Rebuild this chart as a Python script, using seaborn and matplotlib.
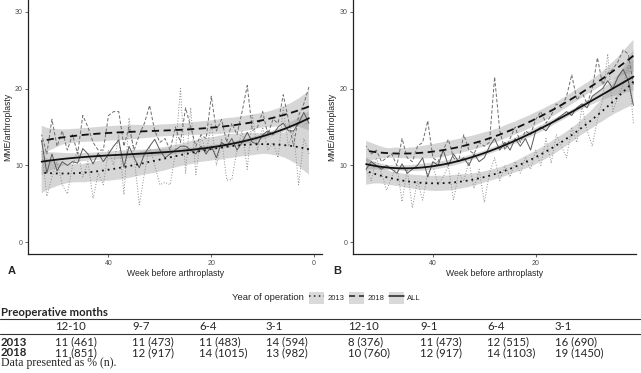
import numpy as np
import pandas as pd
import matplotlib
matplotlib.use("Agg")
import matplotlib.pyplot as plt
import seaborn as sns
from matplotlib.patches import Patch
from matplotlib.lines import Line2D
from matplotlib.legend_handler import HandlerTuple

# ---------------- data ----------------
weeks = list(range(53, 0, -1))

a_2013 = [12.0, 6.0, 8.5, 10.5, 7.5, 6.3, 10.0, 12.0, 8.5, 10.5, 5.7, 9.0, 7.5, 12.0,
          10.0, 14.0, 6.2, 16.2, 11.0, 4.9, 9.0, 12.5, 10.0, 7.5, 7.8, 7.5, 11.5, 20.0,
          9.0, 17.5, 8.8, 14.0, 11.5, 15.5, 10.0, 13.5, 8.1, 8.2, 12.0, 14.5, 9.5, 16.5,
          12.0, 15.0, 12.0, 13.0, 11.0, 17.5, 12.5, 14.5, 7.5, 13.5, 11.5]
a_2018 = [14.0, 11.5, 16.0, 12.5, 14.5, 12.0, 14.0, 11.5, 16.5, 15.0, 13.0, 12.0, 12.0,
          16.5, 17.0, 17.0, 12.5, 15.0, 12.0, 14.0, 15.5, 17.8, 14.5, 13.0, 13.5, 12.0,
          15.0, 13.0, 17.5, 15.0, 12.5, 14.0, 13.5, 19.0, 14.5, 16.0, 13.0, 15.5, 14.0,
          17.0, 20.4, 14.5, 15.0, 17.0, 14.0, 16.0, 15.5, 19.2, 16.0, 12.5, 16.5, 18.0, 20.2]
a_all = [13.2, 9.0, 11.5, 9.3, 10.5, 10.0, 10.5, 10.3, 12.2, 11.5, 10.2, 11.6, 10.5, 11.5,
         12.5, 13.3, 9.8, 12.5, 11.0, 9.7, 11.5, 12.5, 13.4, 12.0, 11.0, 11.5, 12.0, 12.5,
         12.5, 12.0, 11.5, 12.5, 11.5, 12.5, 11.0, 13.0, 12.5, 13.5, 12.0, 13.0, 14.3, 13.0,
         12.8, 14.0, 14.5, 14.0, 15.0, 15.5, 14.5, 14.5, 15.5, 16.9, 15.5]

b_2013 = [9.5, 8.0, 11.0, 9.0, 6.8, 8.5, 10.0, 5.3, 9.5, 4.5, 8.0, 5.5, 9.0, 10.0, 7.5,
          8.5, 10.0, 5.5, 9.0, 8.0, 10.5, 7.0, 9.5, 5.2, 9.0, 11.0, 8.0, 10.0, 8.5, 10.5,
          9.0, 11.0, 9.5, 12.0, 10.0, 13.5, 10.3, 14.0, 12.5, 11.0, 15.0, 13.0, 17.7, 14.5,
          12.5, 16.0, 18.5, 24.5, 17.0, 19.0, 20.5, 23.0, 15.5]
b_2018 = [12.5, 11.5, 12.0, 10.5, 11.0, 11.5, 10.0, 13.5, 11.0, 10.5, 12.5, 13.0, 15.8,
          11.0, 10.5, 12.0, 13.4, 11.0, 10.5, 14.0, 12.0, 11.5, 13.0, 12.5, 13.0, 21.5,
          14.5, 12.0, 13.5, 15.0, 13.0, 14.5, 14.0, 16.0, 17.0, 15.5, 16.5, 18.0, 17.5,
          19.0, 21.8, 18.5, 19.5, 18.0, 20.0, 24.0, 20.5, 22.0, 22.5, 23.5, 25.0, 24.5, 20.5]
b_all = [9.5, 10.5, 10.0, 9.5, 10.0, 9.5, 9.0, 10.2, 9.0, 9.5, 10.0, 11.0, 8.5, 10.5,
         10.0, 12.0, 10.0, 11.5, 10.5, 11.0, 10.0, 11.5, 10.5, 11.0, 12.5, 13.5, 12.0,
         13.0, 12.0, 13.5, 12.5, 13.5, 12.0, 14.5, 15.0, 14.5, 15.5, 16.0, 16.5, 17.0,
         16.5, 17.5, 18.0, 17.5, 19.0, 19.5, 20.0, 21.0, 20.0, 21.5, 22.5, 21.0, 17.8]

groups = ["2013", "2018", "ALL"]
y_ticks = [0, 10, 20, 30]
x_ticks = [40, 20, 0]

table_cols_a = ["12-10", "9-7", "6-4", "3-1"]
table_cols_b = ["12-10", "9-1", "6-4", "3-1"]
table_2013 = ["11 (461)", "11 (473)", "11 (483)", "14 (594)",
              "8 (376)", "11 (473)", "12 (515)", "16 (690)"]
table_2018 = ["11 (851)", "12 (917)", "14 (1015)", "13 (982)",
              "10 (760)", "12 (917)", "14 (1103)", "19 (1450)"]

# ---------------- styling ----------------
sns.set_style("white")
plt.rcParams["font.family"] = ["Liberation Sans", "DejaVu Sans"]

W, H = 641, 373
fig = plt.figure(figsize=(W / 100, H / 100), dpi=100)

raw_style = {
    "2013": dict(color="#8c8c8c", dashes=(1, 1.8), lw=0.7),
    "2018": dict(color="#6e6e6e", dashes=(3.5, 2), lw=0.7),
    "ALL": dict(color="#5a5a5a", dashes=None, lw=0.7),
}
fit_style = {
    "2013": dict(ls=(0, (1, 2.2))),
    "2018": dict(ls=(0, (4, 2.5))),
    "ALL": dict(ls="-"),
}

def px_axes(left, right, top, bottom):
    return fig.add_axes([left / W, 1 - bottom / H, (right - left) / W, (bottom - top) / H])

panels = [
    ("A", px_axes(28.3, 322.3, 0, 254), {"2013": a_2013, "2018": a_2018, "ALL": a_all}, (55.6, -1.6)),
    ("B", px_axes(352.7, 636, 0, 254), {"2013": b_2013, "2018": b_2018, "ALL": b_all}, (55.6, 0.5)),
]

for label, ax, series, xlim in panels:
    df = pd.DataFrame({
        "week": np.tile(weeks, 3),
        "mme": np.concatenate([series[g] for g in groups]),
        "year": np.repeat(groups, len(weeks)),
    })
    for g in groups:
        sub = df[df["year"] == g]
        st = raw_style[g]
        l = sns.lineplot(data=sub, x="week", y="mme", ax=ax, color=st["color"], lw=st["lw"])
        if st["dashes"] is not None:
            l.lines[-1].set_dashes(st["dashes"])
    for g in groups:
        sub = df[df["year"] == g]
        n_before = len(ax.collections)
        sns.regplot(data=sub, x="week", y="mme", ax=ax, order=3, scatter=False,
                    ci=95, n_boot=500, seed=1, truncate=True,
                    line_kws=dict(color="#111111", lw=1.3, **fit_style[g]))
        for c in ax.collections[n_before:]:
            c.set_facecolor("#999999")
            c.set_alpha(0.4)
            c.set_edgecolor("none")
    ax.set_xlim(*xlim)
    ax.set_ylim(-1.5, 31.5)
    ax.set_xticks([t for t in x_ticks if min(xlim) <= t <= max(xlim)])
    ax.set_yticks(y_ticks)
    ax.tick_params(axis="both", labelsize=5, colors="#4d4d4d", length=2.5, width=0.6,
                   pad=1.5, direction="out", bottom=True, left=True)
    for s in ["top", "right"]:
        ax.spines[s].set_visible(False)
    for s in ["left", "bottom"]:
        ax.spines[s].set_color("#222222")
        ax.spines[s].set_linewidth(0.9)
    ax.set_xlabel("Week before arthroplasty", fontsize=6.2, labelpad=2)
    ax.set_ylabel("MME/arthroplasty", fontsize=6.2, labelpad=2)
    ax.set_facecolor("white")

fig.text(8 / W, 1 - 271 / H, "A", fontsize=8, fontweight="bold", va="center", ha="left")
fig.text(333 / W, 1 - 271 / H, "B", fontsize=8, fontweight="bold", va="center", ha="left")

# ---------------- legend ----------------
fig.text(232 / W, 1 - 298 / H, "Year of operation", fontsize=6.8, va="center", ha="left")
handles = []
for g in groups:
    ln = Line2D([], [], color="#222222", lw=1.1, ls=fit_style[g]["ls"])
    handles.append((Patch(facecolor="#d9d9d9", edgecolor="none"), ln))
fig.legend(handles, groups, handler_map={tuple: HandlerTuple(ndivide=1, pad=0)},
           loc="center left", bbox_to_anchor=(309 / W, 1 - 298 / H), ncol=3,
           frameon=False, fontsize=5.5, handlelength=2.0, handleheight=2.0,
           columnspacing=0.6, handletextpad=0.4, borderaxespad=0, borderpad=0)

# ---------------- table ----------------
tfont = ["Lato", "DejaVu Sans"]
fs = 8.2
fig.text(1 / W, 1 - 312 / H, "Preoperative months", fontsize=fs, fontweight="bold",
         family=tfont, va="center", ha="left")
for yy in (318.5, 333.5):
    fig.add_artist(Line2D([0, 1], [1 - yy / H, 1 - yy / H], color="#333333", lw=0.8,
                          transform=fig.transFigure))
col_x = [55, 132, 199, 266, 348, 420, 487, 555]
for x, c in zip(col_x, table_cols_a + table_cols_b):
    fig.text(x / W, 1 - 326 / H, c, fontsize=fs, family=tfont, va="center", ha="left")
fig.text(1 / W, 1 - 342 / H, "2013", fontsize=fs, fontweight="bold", family=tfont,
         va="center", ha="left")
fig.text(1 / W, 1 - 352.5 / H, "2018", fontsize=fs, fontweight="bold", family=tfont,
         va="center", ha="left")
for x, v1, v2 in zip(col_x, table_2013, table_2018):
    fig.text(x / W, 1 - 342 / H, v1, fontsize=fs, family=tfont, va="center", ha="left")
    fig.text(x / W, 1 - 352.5 / H, v2, fontsize=fs, family=tfont, va="center", ha="left")
fig.text(1 / W, 1 - 363 / H, "Data presented as % (n).", fontsize=8.5,
         family=["Liberation Serif", "DejaVu Serif"], va="center", ha="left")

fig.savefig("out.png", dpi=100, facecolor="white")
